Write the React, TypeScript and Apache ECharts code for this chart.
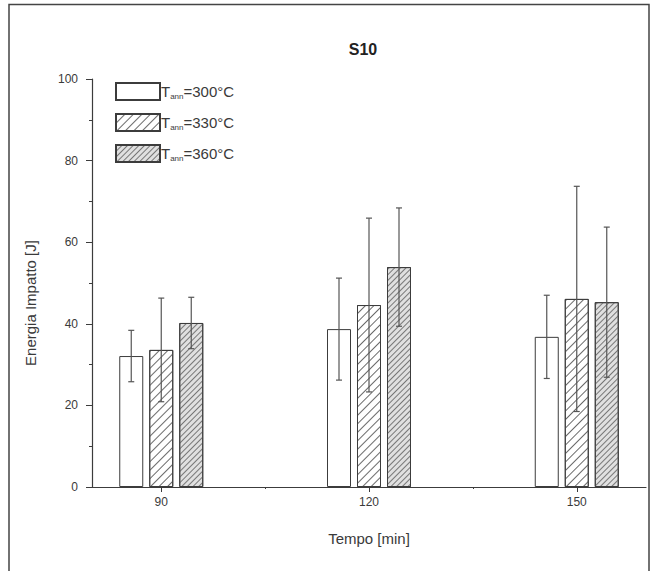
import React, { useEffect, useRef } from "react";
import * as echarts from "echarts";

const times = [90, 120, 150];
const seriesNames = ["300", "330", "360"];
const mean300 = [32.1, 38.7, 36.8];
const err300 = [6.3, 12.5, 10.2];
const mean330 = [33.6, 44.6, 46.1];
const err330 = [12.7, 21.3, 27.6];
const mean360 = [40.2, 53.9, 45.3];
const err360 = [6.3, 14.5, 18.4];
const yTicks = [0, 20, 40, 60, 80, 100];
const xLabels = [90, 120, 150];
const xMinor = [105, 135];

const FONT = "Liberation Sans";
const TXT = "#3a3a3a";
const EDGE = "#3c3c3c";

export default function App() {
  const ref = useRef<HTMLDivElement>(null);
  useEffect(() => {
    if (!ref.current) return;
    const chart = echarts.init(ref.current, null, { renderer: "svg" });
    const means = [mean300, mean330, mean360];
    const errs = [err300, err330, err360];
    const offsets = [-30, 0, 30];
    const decals: any[] = [
      null,
      {
        symbol: "rect",
        symbolSize: 1,
        color: "#6a6a6a",
        backgroundColor: "#fff",
        dashArrayX: [1, 0],
        dashArrayY: [1, 5],
        rotation: -Math.PI / 4,
      },
      {
        symbol: "rect",
        symbolSize: 1,
        color: "#777",
        backgroundColor: "#e0e0e0",
        dashArrayX: [1, 0],
        dashArrayY: [1, 2.2],
        rotation: -Math.PI / 4,
      },
    ];
    const barSeries = means.map((m, i) => ({
      type: "bar",
      name: seriesNames[i],
      data: times.map((t, j) => [t, m[j]]),
      barWidth: 24,
      barGap: "25%",
      itemStyle: {
        color: i === 2 ? "#e0e0e0" : "#fff",
        borderColor: EDGE,
        borderWidth: 1,
        decal: decals[i] || undefined,
      },
      z: 2,
    }));
    const errSeries = means.map((m, i) => ({
      type: "custom",
      name: "err" + seriesNames[i],
      data: times.map((t, j) => [t, m[j] - errs[i][j], m[j] + errs[i][j]]),
      z: 5,
      renderItem: (params: any, api: any) => {
        const x = api.value(0);
        const lo = api.coord([x, api.value(1)]);
        const hi = api.coord([x, api.value(2)]);
        const cx = lo[0] + offsets[i];
        const cap = 3;
        const st = { stroke: "#555", lineWidth: 1.2 };
        return {
          type: "group",
          children: [
            { type: "line", shape: { x1: cx, y1: hi[1], x2: cx, y2: lo[1] }, style: st },
            { type: "line", shape: { x1: cx - cap, y1: hi[1], x2: cx + cap, y2: hi[1] }, style: st },
            { type: "line", shape: { x1: cx - cap, y1: lo[1], x2: cx + cap, y2: lo[1] }, style: st },
          ],
        };
      },
    }));
    const rich = {
      t: { fontFamily: FONT, fontSize: 15, color: TXT, lineHeight: 17 },
      s: { fontFamily: FONT, fontSize: 8, color: TXT, lineHeight: 17, verticalAlign: "bottom", padding: [9, 0, 0, 0] },
    };
    chart.setOption({
      animation: false,
      backgroundColor: "#fff",
      title: {
        text: "S10",
        left: 358,
        top: 36,
        textAlign: "center",
        textStyle: { fontFamily: FONT, fontSize: 16, fontWeight: "bold", color: "#222" },
      },
      legend: {
        orient: "vertical",
        left: 110,
        top: 77,
        icon: "rect",
        itemWidth: 44,
        itemHeight: 17,
        itemGap: 12,
        data: seriesNames,
        formatter: (n: string) => `{t|T}{s|ann}{t|=${n}°C}`,
        textStyle: { rich, padding: [0, 0, 0, -4] },
      },
      grid: { left: 92, right: 5, top: 79, bottom: 84 },
      xAxis: [
        {
          type: "value",
          min: 80,
          max: 160,
          interval: 5,
          splitLine: { show: false },
          axisLine: { lineStyle: { color: EDGE, width: 1.2 } },
          axisTick: { customValues: xLabels, length: 5, lineStyle: { color: EDGE } },
          axisLabel: {
            customValues: xLabels,
            margin: 9,
            fontFamily: FONT,
            fontSize: 12,
            color: TXT,
          },
          name: "Tempo [min]",
          nameLocation: "middle",
          nameGap: 44,
          nameTextStyle: { fontFamily: FONT, fontSize: 15, color: TXT },
        },
        {
          type: "value",
          min: 80,
          max: 160,
          interval: 5,
          position: "bottom",
          splitLine: { show: false },
          axisLine: { show: false },
          axisTick: { customValues: xMinor, length: 2, lineStyle: { color: EDGE } },
          axisLabel: { show: false },
        },
      ],
      yAxis: {
        type: "value",
        min: 0,
        max: 100,
        interval: 20,
        splitLine: { show: false },
        axisLine: { show: true, lineStyle: { color: EDGE, width: 1.2 } },
        axisTick: { show: true, length: 6, lineStyle: { color: EDGE } },
        minorTick: { show: true, splitNumber: 2, length: 3, lineStyle: { color: EDGE } },
        axisLabel: {
          customValues: yTicks,
          margin: 14,
          fontFamily: FONT,
          fontSize: 12,
          color: TXT,
        },
      },
      graphic: [
        {
          type: "rect",
          shape: { x: 9, y: 4.5, width: 640, height: 620 },
          style: { fill: "none", stroke: "#444", lineWidth: 1.5 },
          silent: true,
        },
        {
          type: "text",
          x: 30,
          y: 303,
          rotation: Math.PI / 2,
          style: {
            text: "Energia Impatto [J]",
            fontFamily: FONT,
            fontSize: 15,
            fill: TXT,
            align: "center",
            verticalAlign: "middle",
          },
        },
      ],
      series: [...barSeries, ...errSeries],
    });
    return () => chart.dispose();
  }, []);
  return (
    <div
      ref={ref}
      style={{ position: "fixed", left: 0, top: 0, width: 651, height: 571 }}
    />
  );
}
